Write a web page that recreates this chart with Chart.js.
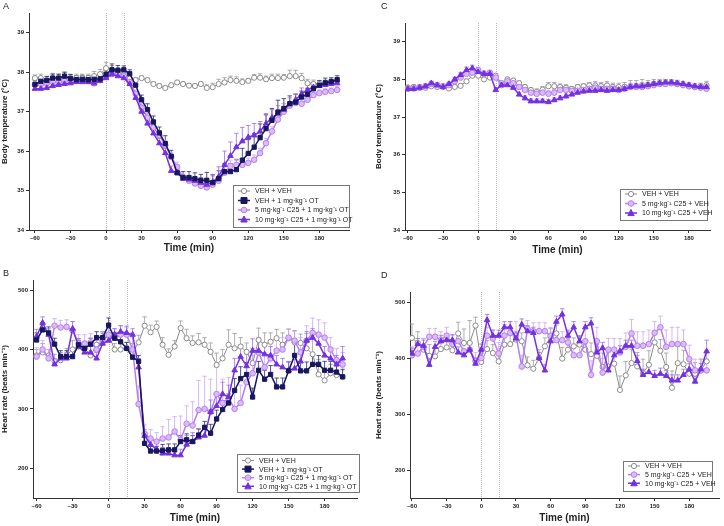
<!DOCTYPE html>
<html>
<head>
<meta charset="utf-8">
<script src="https://cdn.jsdelivr.net/npm/chart.js@4/dist/chart.umd.min.js"></script>
<style>
body { margin: 0; background: #fff; }
#wrap { position: relative; width: 724px; height: 526px; overflow: hidden; }
canvas { position: absolute; }
.lbl { position: absolute; font: 9px "Liberation Sans", Arial, sans-serif; color: #222; }
</style>
</head>
<body>
<div id="wrap">
  <canvas id="chartA" width="362" height="263" style="left:0;top:0"></canvas>
  <canvas id="chartC" width="362" height="263" style="left:362px;top:0"></canvas>
  <canvas id="chartB" width="362" height="263" style="left:0;top:263px"></canvas>
  <canvas id="chartD" width="362" height="263" style="left:362px;top:263px"></canvas>
  <div class="lbl" style="left:3px;top:1px">A</div>
  <div class="lbl" style="left:19px;top:1px;left:381px">C</div>
  <div class="lbl" style="left:3px;top:268px">B</div>
  <div class="lbl" style="left:381px;top:270px">D</div>
</div>
<script>
// time points (min), 5-min bins
const times = [-60,-55,-50,-45,-40,-35,-30,-25,-20,-15,-10,-5,0,
  5,10,15,20,25,30,35,40,45,50,55,60,65,
  70,75,80,85,90,95,100,105,110,115,120,125,130,
  135,140,145,150,155,160,165,170,175,180,185,190,195];
const xTicks = [-60,-30,0,30,60,90,120,150,180];
const tempTicks = [34,35,36,37,38,39];
const hrTicks = [200,300,400,500];
const injections = [0, 15];

const labelsOT = ['VEH + VEH', 'VEH + 1 mg·kg⁻¹ OT', '5 mg·kg⁻¹ C25 + 1 mg·kg⁻¹ OT', '10 mg·kg⁻¹ C25 + 1 mg·kg⁻¹ OT'];
const labelsC25 = ['VEH + VEH', '5 mg·kg⁻¹ C25 + VEH', '10 mg·kg⁻¹ C25 + VEH'];

// A: body temperature, OT
const tempA_veh = [37.85,37.85,37.8,37.85,37.85,37.85,37.85,37.85,37.85,37.85,37.9,37.95,38.1,
  38.05,38.0,37.95,37.85,37.8,37.85,37.8,37.7,37.65,37.6,37.67,37.74,37.7,
  37.66,37.65,37.7,37.6,37.62,37.7,37.74,37.8,37.78,37.75,37.78,37.86,37.86,
  37.82,37.85,37.85,37.86,37.9,37.9,37.85,37.72,37.7,37.7,37.72,37.75,37.78];
const tempA_ot = [37.69,37.77,37.79,37.85,37.85,37.9,37.84,37.81,37.82,37.81,37.82,37.83,37.95,
  38.06,38.05,38.06,37.96,37.67,37.3,37.05,36.74,36.46,36.19,35.87,35.45,35.33,
  35.33,35.3,35.26,35.26,35.2,35.3,35.48,35.48,35.53,35.77,35.94,36.1,36.34,
  36.57,36.78,36.99,37.08,37.2,37.24,37.37,37.44,37.58,37.67,37.73,37.76,37.81];
const tempA_c5 = [37.68,37.7,37.72,37.75,37.76,37.78,37.78,37.8,37.8,37.78,37.72,37.8,37.88,
  37.95,37.95,37.9,37.75,37.45,37.1,36.85,36.6,36.4,36.15,35.85,35.6,35.32,
  35.25,35.18,35.12,35.08,35.15,35.25,35.45,35.62,35.65,35.65,35.7,35.78,35.95,
  36.2,36.5,36.8,37.0,37.15,37.22,37.2,37.3,37.42,37.47,37.5,37.52,37.55];
const tempA_c10 = [37.58,37.58,37.6,37.65,37.68,37.7,37.72,37.75,37.75,37.75,37.72,37.78,37.85,
  37.95,37.9,37.85,37.7,37.35,37.0,36.7,36.45,36.2,35.95,35.5,35.45,35.3,
  35.28,35.25,35.2,35.15,35.22,35.35,35.65,35.88,36.1,36.25,36.35,36.4,36.5,
  36.7,36.85,36.95,37.05,37.2,37.3,37.45,37.55,37.62,37.65,37.68,37.7,37.72];
const semA_veh = [.08,.1,.1,.12,.1,.15,.1,.1,.1,.1,.12,.12,.15,
  .12,.1,.08,.06,.06,.05,.05,.05,.05,.05,.05,.05,.05,
  .05,.05,.05,.08,.1,.12,.12,.1,.1,.08,.06,.08,.1,
  .08,.1,.1,.08,.15,.15,.12,.1,.1,.08,.08,.08,.08];
const semA_ot = [.1,.1,.1,.1,.1,.1,.1,.1,.1,.1,.1,.1,.12,
  .15,.12,.1,.1,.12,.12,.15,.15,.15,.2,.15,.15,.15,
  .15,.15,.15,.2,.2,.2,.2,.2,.25,.3,.35,.35,.35,
  .35,.3,.3,.25,.2,.2,.15,.15,.15,.12,.12,.1,.1];
const semA_c5 = [.08,.08,.08,.08,.08,.08,.08,.08,.08,.08,.08,.08,.08,
  .08,.08,.08,.08,.1,.1,.1,.12,.12,.12,.12,.12,.1,
  .1,.1,.1,.1,.1,.1,.15,.15,.15,.15,.12,.12,.12,
  .12,.12,.12,.1,.1,.1,.1,.08,.08,.08,.08,.08,.08];
const semA_c10 = [.08,.08,.08,.08,.08,.08,.08,.08,.08,.08,.08,.08,.08,
  .1,.1,.1,.1,.12,.12,.12,.12,.12,.12,.12,.1,.1,
  .1,.1,.12,.12,.15,.25,.35,.35,.35,.35,.3,.3,.25,
  .25,.2,.2,.15,.15,.15,.15,.12,.1,.1,.1,.08,.08];

// C: body temperature, C25 alone
const tempC_veh = [37.79,37.8,37.8,37.78,37.82,37.8,37.8,37.76,37.8,37.83,37.95,38.1,38.1,
  38.0,38.05,38.1,37.9,38.0,37.97,37.9,37.8,37.72,37.67,37.73,37.82,37.82,
  37.8,37.78,37.75,37.8,37.82,37.84,37.84,37.82,37.84,37.8,37.8,37.8,37.82,
  37.82,37.85,37.85,37.88,37.9,37.9,37.9,37.88,37.85,37.82,37.8,37.82,37.85];
const tempC_c5 = [37.75,37.76,37.78,37.82,37.88,37.85,37.82,37.85,37.95,38.05,38.15,38.18,38.25,
  38.15,38.18,38.05,37.85,37.95,37.9,37.8,37.72,37.65,37.62,37.65,37.62,37.65,
  37.72,37.72,37.7,37.7,37.72,37.75,37.78,37.75,37.75,37.75,37.72,37.75,37.8,
  37.8,37.8,37.82,37.85,37.88,37.88,37.9,37.88,37.85,37.82,37.8,37.78,37.75];
const tempC_c10 = [37.75,37.75,37.78,37.82,37.9,37.85,37.8,37.88,38.0,38.12,38.25,38.3,38.2,
  38.15,38.15,37.72,37.85,37.85,37.78,37.6,37.5,37.42,37.42,37.42,37.4,37.45,
  37.5,37.55,37.6,37.65,37.68,37.7,37.7,37.72,37.7,37.72,37.72,37.75,37.8,
  37.82,37.82,37.85,37.88,37.9,37.92,37.92,37.9,37.88,37.85,37.82,37.8,37.8];
const semC_veh = [.05,.06,.06,.06,.06,.06,.06,.05,.06,.06,.06,.08,.08,
  .08,.08,.06,.06,.06,.06,.06,.06,.06,.08,.08,.1,.1,
  .08,.08,.06,.06,.06,.08,.1,.1,.1,.1,.1,.12,.15,
  .15,.15,.12,.12,.1,.1,.1,.1,.08,.08,.08,.08,.1];
const semC_c5 = [.06,.06,.06,.06,.06,.06,.06,.06,.08,.08,.1,.1,.08,
  .08,.06,.06,.06,.06,.06,.06,.06,.06,.08,.08,.08,.08,
  .1,.1,.1,.12,.15,.15,.15,.15,.15,.12,.12,.12,.1,
  .1,.1,.1,.1,.1,.08,.08,.08,.08,.08,.08,.08,.08];
const semC_c10 = [.05,.05,.05,.05,.05,.05,.05,.05,.06,.06,.08,.08,.08,
  .06,.06,.06,.06,.06,.06,.06,.06,.06,.06,.06,.06,.06,
  .06,.06,.06,.06,.06,.06,.06,.06,.06,.06,.06,.06,.06,
  .06,.06,.06,.06,.06,.06,.06,.06,.06,.06,.06,.06,.06];

// B: heart rate, OT
const hrB_veh = [390,395,390,380,382,390,400,405,402,390,408,412,425,
  400,400,402,395,412,440,429,438,408,391,405,436,419,
  411,412,408,396,374,385,408,402,405,396,377,416,408,
  413,419,408,419,412,411,402,392,358,348,360,357,354];
const hrB_ot = [416,433,428,409,388,388,388,408,402,409,420,420,441,
  419,413,402,387,380,242,229,229,230,231,231,245,248,
  245,256,269,259,283,299,310,331,351,358,320,365,350,
  358,337,337,364,390,364,364,375,375,365,365,362,354];
const hrB_c5 = [388,400,385,440,437,438,432,410,410,412,400,415,425,
  420,425,425,400,308,258,250,245,250,252,262,248,275,
  272,298,300,295,325,310,318,300,310,345,360,395,370,
  385,398,400,420,415,395,415,428,425,420,400,382,375];
const hrB_c10 = [422,445,425,375,385,385,435,405,395,395,385,410,415,
  425,430,428,425,370,255,240,232,225,225,222,222,240,
  245,252,255,295,305,325,320,365,388,372,398,398,392,
  390,375,370,365,368,380,415,420,410,390,385,375,385];
const semB_veh = [10,15,10,12,10,12,15,10,12,15,12,15,15,
  10,12,10,15,12,15,12,10,12,10,10,12,15,
  12,15,12,15,20,15,25,25,15,15,25,20,20,
  15,15,20,15,20,15,25,25,25,20,15,15,15];
const semB_ot = [12,12,10,10,10,10,10,10,10,10,10,10,12,
  10,10,10,10,10,10,8,8,10,10,10,10,10,
  10,10,10,15,15,15,15,20,20,20,15,15,15,
  15,15,15,15,20,15,15,15,15,15,15,15,12];
const semB_c5 = [15,15,15,12,12,12,15,15,15,15,15,15,15,
  15,15,15,20,30,15,15,15,20,30,25,40,30,
  40,50,55,55,45,40,35,30,30,30,30,25,25,
  25,20,20,15,15,25,25,25,25,25,20,20,20];
const semB_c10 = [12,10,10,10,10,10,12,10,10,10,10,10,10,
  10,10,10,10,15,10,10,10,10,10,10,10,15,
  15,15,15,20,20,20,20,20,20,20,20,15,15,
  15,15,15,15,15,15,15,15,15,15,15,15,20];

// D: heart rate, C25 alone
const hrD_veh = [436,427,415,404,403,416,419,414,444,427,427,458,393,
  416,409,394,424,425,433,430,387,381,400,421,438,444,
  399,415,421,424,415,407,404,384,385,390,343,369,391,
  385,373,388,428,413,384,347,391,389,372,372,378,394];
const hrD_c5 = [405,408,420,438,438,432,440,425,430,412,415,395,400,
  440,435,408,440,445,440,385,452,448,448,448,440,432,
  432,428,405,405,430,370,430,374,415,415,410,420,444,
  422,422,425,445,455,420,425,425,425,398,378,378,378];
const hrD_c10 = [408,425,422,388,420,430,432,432,410,405,415,390,415,
  468,440,440,455,455,435,460,448,445,400,378,430,465,
  478,440,455,430,455,462,410,418,378,405,412,422,422,
  395,370,375,368,372,368,360,360,370,380,358,380,412];
const semD_veh = [25,20,20,20,15,15,15,15,20,25,40,15,15,
  15,15,15,15,15,15,15,15,15,15,15,15,15,
  20,20,15,15,15,20,20,25,25,25,25,25,25,
  25,25,25,20,20,25,30,30,25,25,20,20,20];
const semD_c5 = [15,15,15,15,15,15,15,15,15,15,15,15,15,
  15,15,20,20,20,25,20,15,15,15,15,15,15,
  15,20,20,25,25,25,25,25,20,20,25,25,25,
  25,25,25,20,20,30,30,30,25,25,20,20,20];
const semD_c10 = [10,10,10,10,10,10,10,10,10,10,10,10,10,
  10,10,10,10,10,10,10,10,10,10,10,10,10,
  10,10,10,10,10,10,10,10,10,10,10,10,10,
  10,10,10,10,10,10,10,10,10,10,10,10,20];

const FONT = '"Liberation Sans", Arial, sans-serif';

const styles = {
  veh: {color: '#8c8c8c', fill: '#ffffff', point: 'circle', r: 2.6, lw: 1, err: '#9a9a9a', order: 4},
  ot: {color: '#17175f', fill: '#17175f', point: 'rect', r: 3, lw: 1.5, err: '#2a2a70', order: 1},
  c5: {color: '#b57ef0', fill: '#dcbcf8', point: 'circle', r: 2.8, lw: 1.5, err: '#cba6f5', order: 3},
  c10: {color: '#7431e0', fill: '#7431e0', point: 'triangle', r: 3.2, lw: 1.5, err: '#9c6bea', order: 2}
};

function series(label, vals, sem, s) {
  return {
    label: label,
    data: times.map((t, i) => ({x: t, y: vals[i]})),
    sem: sem,
    errColor: s.err,
    borderColor: s.color,
    backgroundColor: s.fill,
    pointBorderColor: s.color,
    pointBackgroundColor: s.fill,
    pointStyle: s.point,
    pointRadius: s.r,
    pointBorderWidth: 1,
    borderWidth: s.lw,
    order: s.order,
    tension: 0
  };
}

function marker(ctx, d, x, y) {
  const r = d.pointRadius;
  ctx.fillStyle = d.pointBackgroundColor;
  ctx.strokeStyle = d.pointBorderColor;
  ctx.lineWidth = 1;
  ctx.beginPath();
  if (d.pointStyle === 'rect') {
    ctx.rect(x - r, y - r, 2 * r, 2 * r);
  } else if (d.pointStyle === 'triangle') {
    ctx.moveTo(x, y - r * 1.1);
    ctx.lineTo(x + r, y + r * 0.8);
    ctx.lineTo(x - r, y + r * 0.8);
    ctx.closePath();
  } else {
    ctx.arc(x, y, r, 0, Math.PI * 2);
  }
  ctx.fill();
  ctx.stroke();
}

// dotted injection lines, upper SEM bars, legend box
const extras = {
  id: 'extras',
  beforeDatasetsDraw(chart) {
    const ctx = chart.ctx, area = chart.chartArea;
    const xs = chart.scales.x, ys = chart.scales.y;
    ctx.save();
    ctx.strokeStyle = '#b4b4b4';
    ctx.lineWidth = 1;
    ctx.setLineDash([1, 1]);
    injections.forEach(t => {
      const px = Math.round(xs.getPixelForValue(t)) + 0.5;
      ctx.beginPath();
      ctx.moveTo(px, area.top);
      ctx.lineTo(px, area.bottom);
      ctx.stroke();
    });
    ctx.setLineDash([]);
    chart.data.datasets.forEach((d, k) => {
      const meta = chart.getDatasetMeta(k);
      ctx.strokeStyle = d.errColor;
      ctx.lineWidth = 0.8;
      d.data.forEach((p, i) => {
        const el = meta.data[i];
        const top = ys.getPixelForValue(p.y + d.sem[i]);
        ctx.beginPath();
        ctx.moveTo(el.x, el.y);
        ctx.lineTo(el.x, top);
        ctx.moveTo(el.x - 2.2, top);
        ctx.lineTo(el.x + 2.2, top);
        ctx.stroke();
      });
    });
    ctx.restore();
  },
  afterDraw(chart) {
    const b = chart.options.plugins.extras.box;
    const ctx = chart.ctx;
    ctx.save();
    ctx.fillStyle = '#fff';
    ctx.fillRect(b.x, b.y, b.w, b.h);
    ctx.strokeStyle = '#777';
    ctx.lineWidth = 1;
    ctx.strokeRect(b.x + 0.5, b.y + 0.5, b.w, b.h);
    ctx.font = '7px ' + FONT;
    ctx.textBaseline = 'middle';
    chart.data.datasets.forEach((d, i) => {
      const y = b.y + b.pad + i * b.gap;
      ctx.strokeStyle = d.borderColor;
      ctx.lineWidth = d.borderWidth;
      ctx.beginPath();
      ctx.moveTo(b.x + 5, y);
      ctx.lineTo(b.x + 17, y);
      ctx.stroke();
      marker(ctx, d, b.x + 11, y);
      ctx.fillStyle = '#222';
      ctx.fillText(d.label, b.x + 22, y + 0.5);
    });
    ctx.restore();
  }
};

function panel(id, datasets, p) {
  return new Chart(document.getElementById(id), {
    type: 'line',
    data: {datasets: datasets},
    plugins: [extras],
    options: {
      responsive: false,
      animation: false,
      devicePixelRatio: 1,
      layout: {padding: {left: p.padLeft, right: p.padRight, top: p.padTop, bottom: 0}},
      plugins: {
        legend: {display: false},
        tooltip: {enabled: false},
        extras: {box: p.box}
      },
      scales: {
        x: {
          type: 'linear',
          min: p.xMin,
          max: p.xMax,
          afterBuildTicks: s => { s.ticks = xTicks.map(v => ({value: v})); },
          afterFit: s => { s.height = p.xHeight; },
          grid: {drawOnChartArea: false, drawTicks: true, tickLength: 3, color: '#333'},
          border: {display: true, color: '#333', width: 1},
          ticks: {
            autoSkip: false, maxRotation: 0, padding: 2, color: '#222',
            font: {family: FONT, size: 6, weight: 'bold'},
            callback: v => v < 0 ? '–' + Math.abs(v) : String(v)
          },
          title: {
            display: true, text: 'Time (min)', color: '#222',
            font: {family: FONT, size: 10, weight: 'bold'},
            padding: {top: 0, bottom: p.xTitlePad}
          }
        },
        y: {
          type: 'linear',
          min: p.yMin,
          max: p.yMax,
          afterBuildTicks: s => { s.ticks = p.yTicks.map(v => ({value: v})); },
          afterFit: s => { s.width = p.yWidth; },
          grid: {drawOnChartArea: false, drawTicks: true, tickLength: 3, color: '#333'},
          border: {display: true, color: '#333', width: 1},
          ticks: {
            padding: 2, color: '#222',
            font: {family: FONT, size: 6, weight: 'bold'}
          },
          title: {
            display: true, text: p.yTitle, color: '#222',
            font: {family: FONT, size: 8, weight: 'bold'},
            padding: {top: 0, bottom: 0}
          }
        }
      }
    }
  });
}

panel('chartA', [
  series(labelsOT[0], tempA_veh, semA_veh, styles.veh),
  series(labelsOT[1], tempA_ot, semA_ot, styles.ot),
  series(labelsOT[2], tempA_c5, semA_c5, styles.c5),
  series(labelsOT[3], tempA_c10, semA_c10, styles.c10)
], {
  padLeft: 0, padRight: 13, padTop: 13, yWidth: 29, xHeight: 33, xTitlePad: 9,
  xMin: -65, xMax: 205, yMin: 34, yMax: 39.5, yTicks: tempTicks,
  yTitle: 'Body temperature (°C)',
  box: {x: 233, y: 185, w: 116, h: 42, pad: 6, gap: 9.5}
});

panel('chartC', [
  series(labelsC25[0], tempC_veh, semC_veh, styles.veh),
  series(labelsC25[1], tempC_c5, semC_c5, styles.c5),
  series(labelsC25[2], tempC_c10, semC_c10, styles.c10)
], {
  padLeft: 12, padRight: 14, padTop: 23, yWidth: 31, xHeight: 33, xTitlePad: 7,
  xMin: -62.5, xMax: 198, yMin: 34, yMax: 39.5, yTicks: tempTicks,
  yTitle: 'Body temperature (°C)',
  box: {x: 258, y: 189, w: 87, h: 31, pad: 5, gap: 9.5}
});

panel('chartB', [
  series(labelsOT[0], hrB_veh, semB_veh, styles.veh),
  series(labelsOT[1], hrB_ot, semB_ot, styles.ot),
  series(labelsOT[2], hrB_c5, semB_c5, styles.c5),
  series(labelsOT[3], hrB_c10, semB_c10, styles.c10)
], {
  padLeft: 0, padRight: 2, padTop: 17, yWidth: 33, xHeight: 28, xTitlePad: 2,
  xMin: -63, xMax: 207, yMin: 150, yMax: 517, yTicks: hrTicks,
  yTitle: 'Heart rate (beats min⁻¹)',
  box: {x: 237, y: 191, w: 122, h: 38, pad: 6.5, gap: 8.6}
});

panel('chartD', [
  series(labelsC25[0], hrD_veh, semD_veh, styles.veh),
  series(labelsC25[1], hrD_c5, semD_c5, styles.c5),
  series(labelsC25[2], hrD_c10, semD_c10, styles.c10)
], {
  padLeft: 12, padRight: 2, padTop: 29, yWidth: 36, xHeight: 28, xTitlePad: 2,
  xMin: -61.7, xMax: 205.7, yMin: 150, yMax: 518, yTicks: hrTicks,
  yTitle: 'Heart rate (beats min⁻¹)',
  box: {x: 261, y: 198, w: 89, h: 30, pad: 5, gap: 8.6}
});
</script>
</body>
</html>
